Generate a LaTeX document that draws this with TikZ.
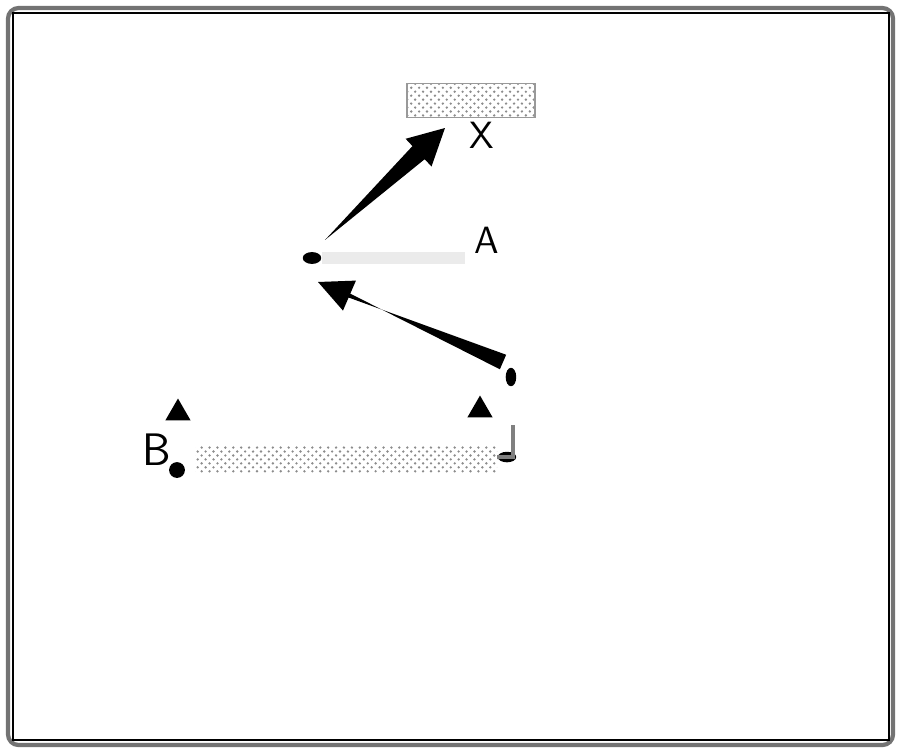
\documentclass[tikz,border=0pt]{standalone}
\usetikzlibrary{calc,patterns,shapes.geometric}

\tikzset{
  lab/.style={font=\sffamily\Large},
  blob/.style={ellipse,fill=black,inner sep=0pt},
  tri/.style={regular polygon,regular polygon sides=3,fill=black,inner sep=0pt,minimum size=11pt},
  hatchbar/.style={pattern=crosshatch dots,pattern color=black!45}
}

\begin{document}
\begin{tikzpicture}

\useasboundingbox (0,0) rectangle (12,10.027);

% frame
\draw[black!55,line width=1.6pt,rounded corners=4pt] (0.107,0.093) rectangle (11.907,9.92);
\draw[black,line width=0.6pt] (0.173,0.16) rectangle (11.853,9.853);

% ceiling
\node[hatchbar,draw=black!40,minimum width=1.707cm,minimum height=0.453cm,inner sep=0pt] (top) at (6.28,8.693) {};
\node[lab] (X) at (6.427,8.227) {X};

% point A
\node[blob,minimum width=7pt,minimum height=4.5pt] (Adot) at (4.16,6.587) {};
\node[lab] (A) at (6.493,6.827) {A};
\draw[black!8,line width=4.5pt] (Adot.east) -- (Adot -| A.west);

% point at the right end
\node[blob,minimum width=4pt,minimum height=7pt] (drop) at (6.813,5.0) {};

% arrow A -> top
\coordinate (t1) at (4.333,6.827);
\coordinate (h1) at (5.933,8.32);
\coordinate (m1) at ($(t1)!0.78!(h1)$);
\fill (t1) -- ($(m1)!3.4pt!90:(h1)$) -- ($(m1)!7.2pt!90:(h1)$) -- (h1)
      -- ($(m1)!7.2pt!-90:(h1)$) -- ($(m1)!3.4pt!-90:(h1)$) -- cycle;

% arrow drop -> A
\coordinate (t2) at (6.707,5.2);
\coordinate (h2) at (4.24,6.267);
\coordinate (m2) at ($(t2)!0.83!(h2)$);
\fill ($(t2)!3pt!90:(h2)$) -- ($(m2)!0.8pt!-90:(h2)$) -- ($(m2)!6.2pt!-90:(h2)$) -- (h2)
      -- ($(m2)!6.2pt!90:(h2)$) -- ($(m2)!0.8pt!90:(h2)$) -- ($(t2)!3pt!-90:(h2)$) -- cycle;

% bottom
\node[tri] (tl) at (2.373,4.52) {};
\node[tri] (tr) at (6.4,4.56) {};
\node[lab,font=\sffamily\LARGE] (B) at (2.093,4.027) {B};
\node[circle,fill=black,minimum size=6pt,inner sep=0pt] (b0) at (2.36,3.76) {};
\coordinate (c1) at (6.84,4.36);
\coordinate (c2) at (6.84,3.933);
\node[blob,minimum width=7pt,minimum height=4pt] (foot) at (6.76,3.933) {};
\fill[hatchbar] (2.6,3.733) rectangle (foot.west |- 0,4.093);
\draw[black!50,line width=1.5pt] (c1) -- (c2) -- (foot.west);

\end{tikzpicture}
\end{document}
